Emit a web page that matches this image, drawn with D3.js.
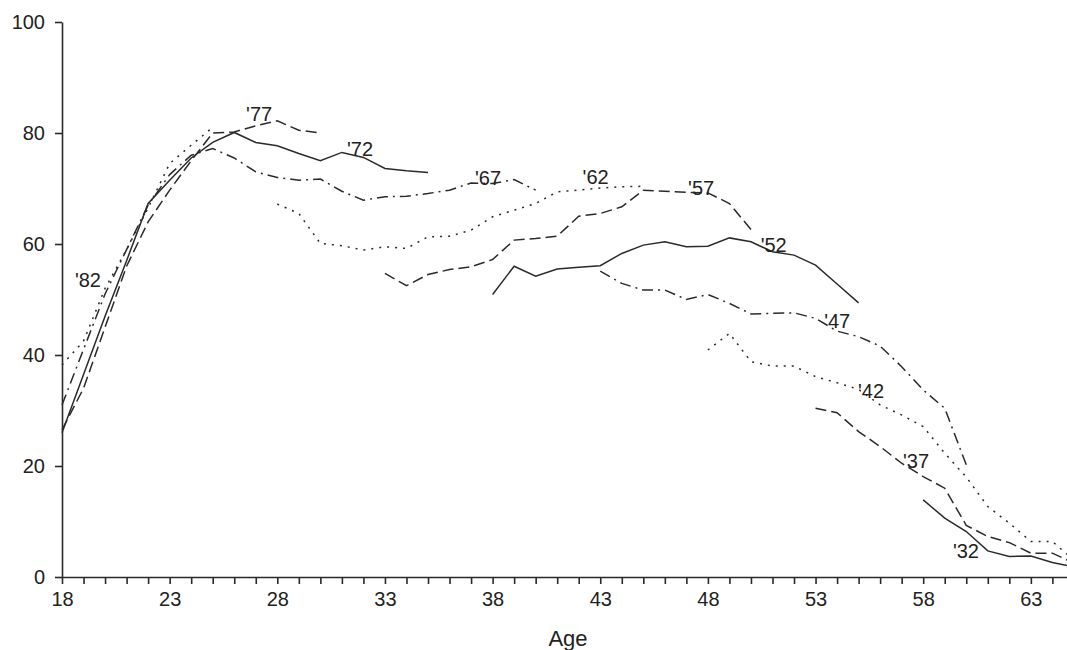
<!DOCTYPE html>
<html>
<head>
<meta charset="utf-8">
<script src="https://cdn.jsdelivr.net/npm/d3@7"></script>
<style>
  body { margin: 0; background: #fff; }
  svg { display: block; font-family: "Liberation Sans", Arial, sans-serif; }
  .axis path, .axis line { stroke: #2a2a2a; stroke-width: 1.6; }
  .axis text { fill: #222; font-size: 20px; font-family: "Liberation Sans", Arial, sans-serif; }
  .cohort { fill: none; stroke: #2a2a2a; stroke-width: 1.5; }
  .lbl { fill: #222; font-size: 20px; }
</style>
</head>
<body>
<svg id="chart" width="1067" height="650"></svg>
<script>
const cohorts = ["'32", "'37", "'42", "'47", "'52", "'57", "'62", "'67", "'72", "'77", "'82"]
const startAges = [58, 53, 48, 43, 38, 33, 28, 18, 18, 18, 18]
const v32 = [13.9, 10.6, 8.2, 4.7, 3.7, 3.8, 2.6, 1.8]
const v37 = [30.4, 29.6, 26.2, 23.5, 20.5, 18.1, 16.0, 9.3, 7.3, 6.2, 4.3, 4.3, 2.5]
const v42 = [40.9, 43.9, 38.8, 38.0, 38.0, 36.1, 35.0, 33.8, 31.0, 29.2, 27.1, 22.3, 18.0, 12.7, 9.7, 6.4, 6.4, 3.0]
const v47 = [55.1, 52.9, 51.7, 51.7, 50.0, 50.9, 49.3, 47.4, 47.5, 47.6, 46.6, 44.3, 43.3, 41.6, 37.9, 33.7, 30.4, 20.2]
const v52 = [50.9, 56.0, 54.2, 55.5, 55.8, 56.1, 58.3, 59.8, 60.4, 59.5, 59.6, 61.1, 60.4, 58.6, 58.0, 56.2, 52.8, 49.4]
const v57 = [54.7, 52.5, 54.5, 55.4, 55.9, 57.2, 60.7, 61.0, 61.4, 65.0, 65.5, 66.7, 69.7, 69.5, 69.3, 69.2, 67.3, 62.6]
const v62 = [67.2, 65.5, 60.1, 59.7, 58.9, 59.5, 59.2, 61.3, 61.4, 62.5, 64.9, 66.1, 67.3, 69.4, 69.7, 70.1, 70.3, 70.4]
const v67 = [31, 41, 51, 59, 67, 72.5, 76, 77.2, 75.5, 73, 72, 71.5, 71.7, 69.5, 67.9, 68.5, 68.6, 69.1, 69.7, 71.0, 70.9, 71.6, 69.7]
const v72 = [26, 36.5, 47, 57, 67.3, 71.5, 75.5, 78.3, 80.1, 78.3, 77.7, 76.3, 75.0, 76.5, 75.6, 73.6, 73.2, 72.9]
const v77 = [26.5, 34, 45, 56, 64, 69.7, 75, 80, 80.2, 81.3, 82.2, 80.5, 80]
const v82 = [38.2, 42.5, 52, 59, 66.5, 74.5, 77.8, 81]
const values = [v32, v37, v42, v47, v52, v57, v62, v67, v72, v77, v82]
// where each cohort name sits (age, value of its baseline-left corner)
const labelAges = [59.38, 57.06, 54.97, 53.4, 50.45, 47.08, 42.18, 37.18, 31.24, 26.55, 18.6]
const labelValues = [3.4, 19.6, 32.3, 44.9, 58.6, 68.8, 70.8, 70.6, 75.9, 82.2, 52.3]
const yTicks = [0, 20, 40, 60, 80, 100]

const styles = ["none", "11,5", "2,6", "11,5,2,5"]

const svg = d3.select("#chart")
const x = d3.scaleLinear().domain([18, 65]).range([62, 62 + 47 * 21.53])
const y = d3.scaleLinear().domain([0, 100]).range([577, 22])

svg.append("g")
    .attr("class", "axis")
    .attr("transform", "translate(0,577)")
    .call(d3.axisBottom(x)
        .tickValues(d3.range(18, 66))
        .tickSize(7)
        .tickSizeOuter(0)
        .tickPadding(8)
        .tickFormat((d) => (d - 18) % 5 === 0 && d < 65 ? d : ""))

svg.append("g")
    .attr("class", "axis")
    .attr("transform", "translate(62,0)")
    .call(d3.axisLeft(y)
        .tickValues(yTicks)
        .tickSize(7)
        .tickSizeOuter(0)
        .tickPadding(10))

svg.append("text")
    .attr("x", 568)
    .attr("y", 646)
    .attr("text-anchor", "middle")
    .attr("fill", "#222")
    .style("font-size", "22px")
    .text("Age")

const line = d3.line()
    .x((d) => x(d.age))
    .y((d) => y(d.v))

cohorts.forEach((name, i) => {
    const pts = values[i].map((v, j) => ({ age: startAges[i] + j, v: v }))
    svg.append("path")
        .datum(pts)
        .attr("class", "cohort")
        .attr("stroke-dasharray", styles[i % 4])
        .attr("d", line)
    svg.append("text")
        .attr("class", "lbl")
        .attr("x", x(labelAges[i]))
        .attr("y", y(labelValues[i]))
        .text(name)
})
</script>
</body>
</html>
